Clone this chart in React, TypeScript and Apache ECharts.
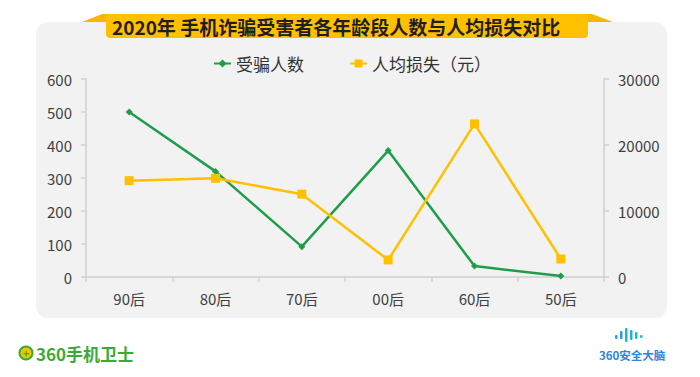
import React, { useEffect, useRef } from "react";
import * as echarts from "echarts";

const categories = ["90后", "80后", "70后", "00后", "60后", "50后"];
const victims = [500, 320, 92, 383, 33, 3];
const avgLoss = [14600, 14950, 12550, 2580, 23200, 2730];
const leftTicks = { min: 0, max: 600, interval: 100 };
const rightTicks = { min: 0, max: 30000, interval: 10000 };
const titleText = "2020年 手机诈骗受害者各年龄段人数与人均损失对比";
const seriesNames = ["受骗人数", "人均损失（元）"];

const FONT = "'Noto Sans CJK SC', 'Noto Sans', sans-serif";
const GREEN = "#1f9e4a";
const YELLOW = "#ffc000";

export default function App() {
  const ref = useRef<HTMLDivElement>(null);
  useEffect(() => {
    document.body.style.margin = "0";
    const chart = echarts.init(ref.current!, null, { renderer: "svg" });
    const axisLabel = { color: "#404040", fontSize: 15, fontFamily: FONT };
    const axisLine = { show: true, lineStyle: { color: "#d0d0d0", width: 1.5 } };
    const axisTick = { show: true, length: 5, lineStyle: { color: "#d0d0d0", width: 1.5 } };
    const bars = [
      { x: 615, y: 335, h: 4, c: "#2a9be0" },
      { x: 620, y: 331, h: 8, c: "#2a9be0" },
      { x: 625, y: 328, h: 14, c: "#22b0d8" },
      { x: 630, y: 330, h: 10, c: "#22b0d8" },
      { x: 635, y: 332, h: 7, c: "#18c0c8" },
      { x: 640, y: 335, h: 3, c: "#18c0c8" },
    ];
    chart.setOption({
      animation: false,
      textStyle: { fontFamily: FONT },
      graphic: [
        {
          type: "rect",
          z: -10,
          shape: { x: 36, y: 22, width: 631, height: 296, r: 12 },
          style: { fill: "#f2f2f2" },
        },
        {
          type: "polygon",
          z: -5,
          shape: { points: [[82, 22], [102, 14], [592, 14], [613, 22]] },
          style: { fill: "#f5b800" },
        },
        {
          type: "rect",
          z: -4,
          shape: { x: 106, y: 14, width: 482, height: 24, r: [0, 0, 4, 4] },
          style: { fill: YELLOW },
        },
        {
          type: "text",
          x: 112,
          y: 26,
          style: {
            text: titleText,
            fill: "#1f1f1f",
            font: `bold 19px ${FONT}`,
            verticalAlign: "middle",
          },
        },
        {
          type: "circle",
          shape: { cx: 26, cy: 353, r: 6.5 },
          style: { fill: "#f5c400", stroke: "#3aaa35", lineWidth: 2 },
        },
        {
          type: "text",
          x: 26,
          y: 353,
          style: {
            text: "+",
            fill: "#3aaa35",
            font: `bold 11px ${FONT}`,
            align: "center",
            verticalAlign: "middle",
          },
        },
        {
          type: "text",
          x: 36,
          y: 353,
          style: {
            text: "360手机卫士",
            fill: "#3aaa35",
            font: `bold 17px ${FONT}`,
            verticalAlign: "middle",
          },
        },
        ...bars.map((b) => ({
          type: "rect",
          shape: { x: b.x, y: b.y, width: 2.5, height: b.h, r: 1 },
          style: { fill: b.c },
        })),
        {
          type: "text",
          x: 599,
          y: 355,
          style: {
            text: "360安全大脑",
            fill: "#2a86e0",
            font: `bold 11.5px ${FONT}`,
            verticalAlign: "middle",
          },
        },
      ],
      legend: {
        left: 208,
        top: 50,
        itemWidth: 17,
        itemHeight: 10,
        itemGap: 45,
        textStyle: { color: "#333", fontSize: 17, fontFamily: FONT },
        data: seriesNames,
      },
      grid: { left: 86, right: 96, top: 79, bottom: 100, containLabel: false },
      xAxis: {
        type: "category",
        data: categories,
        boundaryGap: true,
        axisLine,
        axisTick,
        axisLabel: { ...axisLabel, margin: 14 },
        splitLine: { show: false },
      },
      yAxis: [
        {
          type: "value",
          ...leftTicks,
          position: "left",
          axisLine,
          axisTick,
          axisLabel: { ...axisLabel, margin: 14 },
          splitLine: { show: false },
        },
        {
          type: "value",
          ...rightTicks,
          position: "right",
          axisLine,
          axisTick,
          axisLabel: { ...axisLabel, margin: 14, formatter: (v: number) => String(v) },
          splitLine: { show: false },
        },
      ],
      series: [
        {
          name: seriesNames[0],
          type: "line",
          yAxisIndex: 0,
          data: victims,
          symbol: "diamond",
          symbolSize: 7,
          lineStyle: { color: GREEN, width: 2.5 },
          itemStyle: { color: GREEN },
        },
        {
          name: seriesNames[1],
          type: "line",
          yAxisIndex: 1,
          data: avgLoss,
          symbol: "rect",
          symbolSize: 9,
          lineStyle: { color: YELLOW, width: 2.5 },
          itemStyle: { color: YELLOW },
        },
      ],
    });
    return () => chart.dispose();
  }, []);
  return <div ref={ref} style={{ width: 700, height: 377 }} />;
}
